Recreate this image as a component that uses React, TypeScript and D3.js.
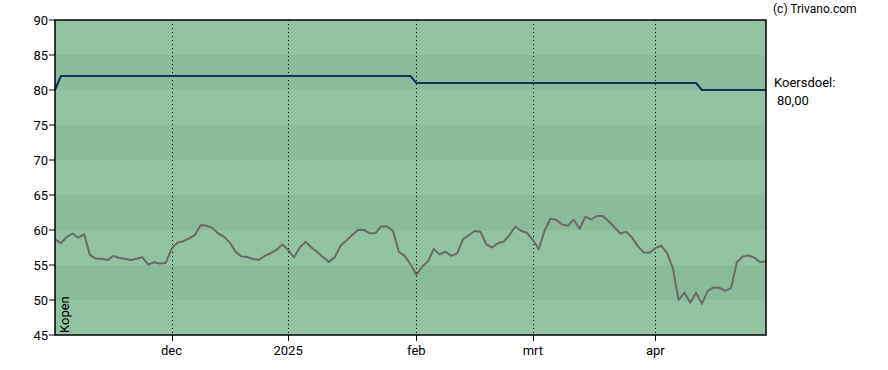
import * as d3 from 'd3'

// Slotkoers per handelsdag (index-gebaseerde x-as)
const PRICES = [
  58.7, 58.1, 59.0, 59.5, 58.9, 59.4, 56.4, 55.9, 55.9, 55.7,
  56.3, 56.0, 55.9, 55.7, 55.9, 56.1, 55.05, 55.4, 55.2, 55.3,
  57.3, 58.2, 58.4, 58.8, 59.3, 60.7, 60.6, 60.3, 59.5, 59.05,
  58.2, 56.9, 56.2, 56.15, 55.85, 55.75, 56.3, 56.7, 57.15, 57.95,
  57.15, 56.1, 57.5, 58.3, 57.5, 56.85, 56.1, 55.45, 56.1, 57.75,
  58.5, 59.3, 60.05, 60.0, 59.55, 59.55, 60.55, 60.5, 59.85, 56.9,
  56.3, 55.1, 53.6, 54.75, 55.55, 57.3, 56.5, 56.9, 56.3, 56.65,
  58.7, 59.25, 59.85, 59.75, 57.95, 57.5, 58.1, 58.35, 59.3, 60.5,
  59.85, 59.6, 58.6, 57.25, 59.9, 61.6, 61.45, 60.8, 60.6, 61.5,
  60.15, 61.9, 61.5, 62.0, 62.0, 61.25, 60.4, 59.5, 59.75, 58.95,
  57.7, 56.8, 56.75, 57.4, 57.75, 56.75, 54.6, 50.0, 51.05, 49.6,
  51.05, 49.45, 51.3, 51.8, 51.75, 51.3, 51.7, 55.4, 56.2, 56.35,
  56.05, 55.4, 55.55,
]

// Koersdoel: knikpunten (index, waarde)
const TARGET_IDX = [0, 1, 61, 62, 110, 111, 122]
const TARGET_VAL = [80, 82, 82, 81, 81, 80, 80]

const X_TICK_IDX = [20, 40, 62, 82, 103]
const X_TICK_LABELS = ['dec', '2025', 'feb', 'mrt', 'apr']
const Y_TICKS = [45, 50, 55, 60, 65, 70, 75, 80, 85, 90]

const W = 888
const H = 370
const M = { left: 55, right: 766, top: 20, bottom: 335 }
const FONT = 'Roboto, "Liberation Sans", Arial, sans-serif'
const LIGHT = '#92c3a2'
const DARK = '#8abb9a'

export default function App() {
  const x = d3.scaleLinear().domain([0, PRICES.length - 1]).range([M.left, M.right])
  const y = d3.scaleLinear().domain([45, 90]).range([M.bottom, M.top])

  const priceLine = d3
    .line<number>()
    .x((_, i) => x(i))
    .y((d) => y(d))

  const targetLine = d3
    .line<number>()
    .x((d) => x(d))
    .y((_, i) => y(TARGET_VAL[i]))

  const bands = Y_TICKS.slice(0, -1)

  return (
    <svg
      width={W}
      height={H}
      style={{ position: 'absolute', left: 0, top: 0, background: '#fff' }}
      fontFamily={FONT}
    >
      {/* horizontal bands, alternating every 5 */}
      {bands.map((v, i) => (
        <rect
          key={v}
          x={M.left}
          y={y(v + 5)}
          width={M.right - M.left}
          height={y(v) - y(v + 5)}
          fill={i % 2 === 0 ? LIGHT : DARK}
        />
      ))}

      {/* vertical dotted grid */}
      {X_TICK_IDX.map((t) => (
        <line
          key={t}
          x1={Math.round(x(t)) + 0.5}
          x2={Math.round(x(t)) + 0.5}
          y1={M.top}
          y2={M.bottom}
          stroke="#000"
          strokeWidth={1}
          strokeDasharray="1,3"
        />
      ))}

      <path
        d={targetLine(TARGET_IDX) || ''}
        fill="none"
        stroke="#0f3353"
        strokeWidth={2}
      />
      <path
        d={priceLine(PRICES) || ''}
        fill="none"
        stroke="#6b6b6b"
        strokeWidth={2}
        strokeLinejoin="round"
      />

      <text
        transform={`translate(${M.left + 14},${M.bottom - 2}) rotate(-90)`}
        fontSize={13}
        fill="#000"
      >
        Kopen
      </text>

      {/* frame */}
      <rect
        x={M.left}
        y={M.top}
        width={M.right - M.left}
        height={M.bottom - M.top}
        fill="none"
        stroke="#000"
        strokeWidth={1.5}
      />

      {/* y axis */}
      {Y_TICKS.map((v) => (
        <g key={v}>
          <line x1={M.left - 6} x2={M.left} y1={y(v)} y2={y(v)} stroke="#000" strokeWidth={1} />
          <text x={M.left - 7} y={y(v) + 4.5} textAnchor="end" fontSize={13} fill="#000">
            {v}
          </text>
        </g>
      ))}

      {/* x axis */}
      {X_TICK_IDX.map((t, i) => (
        <g key={t}>
          <line
            x1={Math.round(x(t)) + 0.5}
            x2={Math.round(x(t)) + 0.5}
            y1={M.bottom}
            y2={M.bottom + 6}
            stroke="#000"
            strokeWidth={1}
          />
          <text x={x(t)} y={355} textAnchor="middle" fontSize={13} fill="#000">
            {X_TICK_LABELS[i]}
          </text>
        </g>
      ))}

      <text x={773} y={13} fontSize={12} fill="#000">
        (c) Trivano.com
      </text>
      <text x={774} y={87} fontSize={13} fill="#000">
        Koersdoel:
      </text>
      <text x={777} y={105} fontSize={13} fill="#000">
        80,00
      </text>
    </svg>
  )
}
